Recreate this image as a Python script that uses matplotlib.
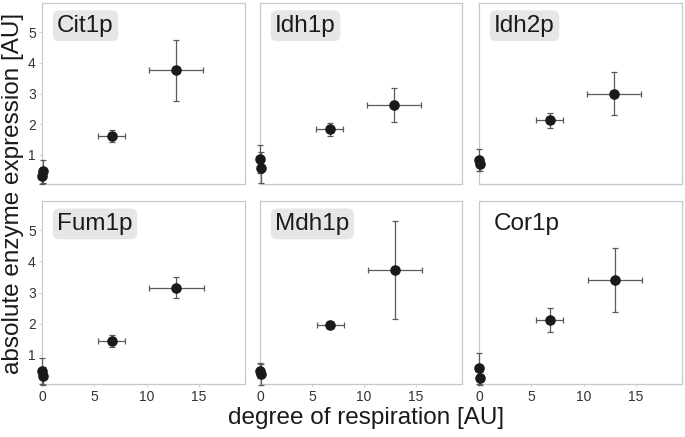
import matplotlib
matplotlib.use("Agg")
import matplotlib.pyplot as plt

plt.rcParams['font.family'] = ['Liberation Sans', 'DejaVu Sans']

W, H = 685, 437

proteins = ["Cit1p", "Idh1p", "Idh2p", "Fum1p", "Mdh1p", "Cor1p"]
boxed = [True, True, True, True, True, False]

# respiration degree (x), its error, expression (y), its error
x_vals = {
    "Cit1p": [0.05, 0.0, 6.65, 12.8],
    "Idh1p": [0.0, 0.05, 6.7, 12.9],
    "Idh2p": [0.0, 0.05, 6.75, 12.9],
    "Fum1p": [0.0, 0.05, 6.65, 12.85],
    "Mdh1p": [0.0, 0.05, 6.75, 12.95],
    "Cor1p": [0.0, 0.05, 6.75, 13.0],
}
x_errs = {
    "Cit1p": [0, 0, 1.26, 2.55],
    "Idh1p": [0, 0, 1.3, 2.58],
    "Idh2p": [0, 0, 1.3, 2.58],
    "Fum1p": [0, 0, 1.26, 2.6],
    "Mdh1p": [0, 0, 1.3, 2.6],
    "Cor1p": [0, 0, 1.3, 2.58],
}
y_vals = {
    "Cit1p": [0.46, 0.30, 1.61, 3.75],
    "Idh1p": [0.86, 0.58, 1.83, 2.62],
    "Idh2p": [0.84, 0.69, 2.12, 3.0],
    "Fum1p": [0.47, 0.31, 1.44, 3.16],
    "Mdh1p": [0.48, 0.37, 1.95, 3.73],
    "Cor1p": [0.55, 0.24, 2.12, 3.41],
}
y_errs = {
    "Cit1p": [0.38, 0.24, 0.2, 1.0],
    "Idh1p": [0.46, 0.5, 0.2, 0.55],
    "Idh2p": [0.35, 0.2, 0.26, 0.71],
    "Fum1p": [0.43, 0.28, 0.2, 0.35],
    "Mdh1p": [0.24, 0.34, 0.05, 1.57],
    "Cor1p": [0.5, 0.21, 0.39, 1.03],
}

x_ticks = [0, 5, 10, 15]
y_ticks = [1, 2, 3, 4, 5]

# panel pixel boxes: (left, right, top, bottom)
cols = [(42, 245), (260, 462), (479, 682)]
rows = [(3, 184), (201, 384)]

fig = plt.figure(figsize=(W / 100, H / 100), dpi=100)

spine_c = "#c8c8c8"
for i, p in enumerate(proteins):
    r, c = divmod(i, 3)
    l, rr = cols[c]
    t, b = rows[r]
    ax = fig.add_axes([l / W, 1 - b / H, (rr - l) / W, (b - t) / H])
    ax.errorbar(x_vals[p], y_vals[p], xerr=x_errs[p], yerr=y_errs[p],
                fmt='o', color='#1a1a1a', markersize=6.6,
                ecolor='#5a5a5a', elinewidth=0.9, capsize=2.2, capthick=0.9,
                clip_on=False, zorder=3)
    ax.set_xlim(0, 19.4)
    ax.set_ylim(0.05, 5.95)
    for s in ax.spines.values():
        s.set_color(spine_c)
        s.set_linewidth(0.9)
    ax.set_xticks(x_ticks)
    ax.set_yticks(y_ticks)
    ax.tick_params(length=2.5, width=0.6, color='#d0d0d0', labelcolor='#333333',
                   labelsize=10, pad=2)
    if c != 0:
        ax.tick_params(axis='y', left=False, labelleft=False)
    if r != 1:
        ax.tick_params(axis='x', bottom=False, labelbottom=False)
    bbox = dict(boxstyle='round,pad=0.18,rounding_size=0.25', fc='#e6e6e6', ec='none') if boxed[i] else None
    ax.text(0.075, 0.935, p, transform=ax.transAxes, fontsize=17.5, color='#1a1a1a',
            ha='left', va='top', bbox=bbox)

fig.text(13 / W, 1 - 193 / H, "absolute enzyme expression [AU]", rotation=90,
         ha='center', va='center', fontsize=17.5, color='#1a1a1a')
fig.text(366 / W, 1 - 418 / H, "degree of respiration [AU]",
         ha='center', va='center', fontsize=17.5, color='#1a1a1a')

fig.savefig("out.png", dpi=100)
